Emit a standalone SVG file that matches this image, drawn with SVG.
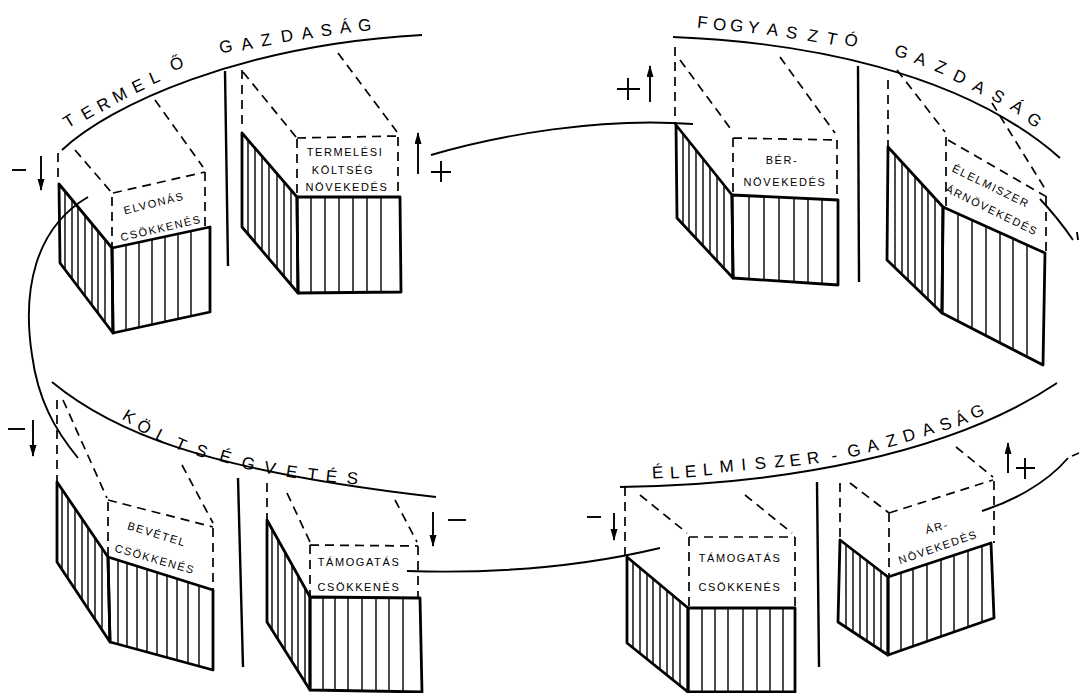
<svg xmlns="http://www.w3.org/2000/svg" width="1083" height="693" viewBox="0 0 1083 693">
<defs>
<style>
.bg{fill:#fff}
.face{fill:none;stroke:#000;stroke-width:2.8;stroke-linejoin:round}
.hatch{fill:none;stroke:#000;stroke-width:1.4}
.dash{fill:none;stroke:#000;stroke-width:1.7;stroke-dasharray:9 6}
.arc{fill:none;stroke:#000;stroke-width:1.9}
.sep{fill:none;stroke:#000;stroke-width:2.4}
.sign{fill:none;stroke:#000;stroke-width:1.9}
.arr{fill:none;stroke:#000;stroke-width:1.9;marker-end:url(#ah)}
.lbl{font-family:"Liberation Sans","DejaVu Sans",sans-serif;font-size:11px;letter-spacing:1.6px;text-anchor:middle;dominant-baseline:central;fill:#000}
.arcl{font-family:"Liberation Sans","DejaVu Sans",sans-serif;font-size:17px;text-anchor:middle;dominant-baseline:central;fill:#000}
</style>
<marker id="ah" markerUnits="userSpaceOnUse" markerWidth="12" markerHeight="8" refX="11" refY="3.5" orient="auto">
<path d="M0,0 L12,3.5 L0,7 Z" fill="#000"/>
</marker>
</defs>
<rect class="bg" x="0" y="0" width="1083" height="693"/>

<g id="arcs">
<path class="arc" d="M62,150 C110,105 240,45 422,35"/>
<path class="arc" d="M673,37 C800,42 960,70 1060,158"/>
<path class="arc" d="M52,382 C110,430 200,470 436,497"/>
<path class="arc" d="M620,487 C780,485 950,455 1057,383"/>
<text class="arcl" x="73 91 107 123 141 157 179 203 227 248 267 288 308 327 346 365" y="123 115 107 98 88 79 66 57 48 45 41 37 34 31 28 26" rotate="-32 -30 -28 -27 -25 -23 -21 -15 -12 -11 -10 -9 -8 -7 -6 -5">TERMELŐ GAZDASÁG</text>
<text class="arcl" x="702 719 736 753 772 791 812 831 850 875 900 919 939 958 977 996 1015 1032" y="22 24 25 27 29 32 35 38 39 44 50 57 65 74 84 93 103 115" rotate="6 6 7 7 8 9 10 11 12 14 16 19 22 25 28 31 34 37">FOGYASZTÓ GAZDASÁG</text>
<text class="arcl" x="127 142 159 179 200 224 247 269 291 312 331 352" y="413 423 433 442 449 455 462 467 471 474 476 478" rotate="32 30 27 24 20 17 14 11 9 7 6 5">KÖLTSÉGVETÉS</text>
<text class="arcl" x="658 675 691 708 727 744 761 780 796 814 835 855 874 893 911 930 948 964 980" y="473 473 472 470 467 465 464 462 461 459 456 452 447 442 437 431 426 421 414" rotate="-3 -3 -4 -4 -5 -5 -6 -6 -7 -8 -9 -11 -13 -15 -17 -19 -21 -23 -25">ÉLELMISZER-GAZDASÁG</text>
</g>

<g id="separators">
<path class="sep" d="M225,71 L228,266"/>
<path class="sep" d="M858,66 L859,282"/>
<path class="sep" d="M238,478 L243,667"/>
<path class="sep" d="M817,482 L819,667"/>
</g>

<g id="connectors">
<path class="arc" d="M431,155 C500,135 600,117 693,124"/>
<path class="arc" d="M407,571 C470,573 560,572 660,548"/>
<path class="arc" d="M88,197 C35,228 22,290 32,355 C38,400 55,430 78,458"/>
<path class="arc" d="M1040,199 Q1058,218 1073,240"/>
<path class="arc" d="M982,511 C1010,502 1045,485 1068,458"/>
<path class="arc" d="M1072,456 L1079,453 M1077,232 L1078,240"/>
</g>

<g id="signs">
<path class="arr" d="M41,156 V190"/>
<path class="sign" d="M12,170 H26"/>
<path class="arr" d="M418,174 V133"/>
<path class="sign" d="M431,172 H451 M441,161 V182"/>
<path class="arr" d="M650,102 V66"/>
<path class="sign" d="M617,89 H640 M628,78 V100"/>
<path class="arr" d="M33,420 V456"/>
<path class="sign" d="M8,429 H25"/>
<path class="arr" d="M433,512 V546"/>
<path class="sign" d="M448,520 H466"/>
<path class="arr" d="M614,513 V540"/>
<path class="sign" d="M587,517 H601"/>
<path class="arr" d="M1008,473 V443"/>
<path class="sign" d="M1016,468 H1035 M1025,458 V479"/>
</g>

<g id="elvonas">
<path class="dash" d="M58,153V183M75,150L112,193M155,100L203,167M113,193L205,172M205,172V227M112,197V248"/>
<polygon class="face" points="59,184 112,248 113,333 60,263"/>
<polygon class="face" points="112,248 210,227 210,312 113,333"/>
<path class="hatch" d="M65,191.2V269.6M72,199.7V278.8M78,207V286.8M85,215.4V296M92,223.9V305.2M98,231.1V313.2M105,239.6V322.4"/>
<path class="hatch" d="M126,245V330.2M139,242.2V327.4M152,239.4V324.6M165,236.7V321.7M178,233.9V318.9M191,231.1V316.1"/>
<text class="lbl" x="154" y="203" transform="rotate(-14 154 203)">ELVONÁS</text>
<text class="lbl" x="161" y="228" transform="rotate(-13 161 228)">CSÖKKENÉS</text>
</g>

<g id="termelesi">
<path class="dash" d="M242,70V130M243,72L296,137M338,53L397,132M297,138L398,136M398,137V196M297,139V197"/>
<polygon class="face" points="242,133 297,197 298,293 242,227"/>
<polygon class="face" points="297,197 400,197 401,292 298,293"/>
<path class="hatch" d="M248,140V234.1M255,148.1V242.3M262,156.3V250.6M269,164.4V258.9M277,173.7V268.3M284,181.9V276.6M291,190V284.9"/>
<path class="hatch" d="M311,197V293M325,197V293M339,197V293M353,197V292.5M367,197V292.5M381,197V292.5"/>
<text class="lbl" x="345" y="152">TERMELÉSI</text>
<text class="lbl" x="343" y="170">KÖLTSÉG</text>
<text class="lbl" x="347" y="187">NÖVEKEDÉS</text>
</g>

<g id="ber">
<path class="dash" d="M675,47V125M680,60L733,132M780,57L835,133M733,138L837,140M837,140V199M733,138V194"/>
<polygon class="face" points="676,125 732,195 733,278 677,218"/>
<polygon class="face" points="732,195 838,200 838,285 733,278"/>
<path class="hatch" d="M683,133.8V224.4M689,141.3V230.9M696,150V238.4M703,158.8V245.9M710,167.5V253.4M717,176.3V260.9M724,185V268.4"/>
<path class="hatch" d="M749,195.8V279.1M764,196.5V280.1M779,197.2V281.1M794,197.9V282.1M808,198.5V283M822,199.2V284"/>
<text class="lbl" x="782" y="160">BÉR-</text>
<text class="lbl" x="785" y="182">NÖVEKEDÉS</text>
</g>

<g id="elelmiszer">
<path class="dash" d="M888,80V146M897,70L945,132M992,103L1047,192M948,140L1047,197M1046,197V253M946,137V207"/>
<polygon class="face" points="888,147 943,207 942,313 887,260"/>
<polygon class="face" points="943,207 1045,253 1043,365 942,313"/>
<path class="hatch" d="M895,154.6V266.7M902,162.3V273.5M908,168.8V279.3M915,176.5V286M922,184.1V292.8M928,190.6V298.6M935,198.3V305.3"/>
<path class="hatch" d="M958,213.8V320.7M972,220.1V327.9M986,226.4V335.1M1000,232.7V342.4M1013,238.6V349.1M1027,244.9V356.3"/>
<text class="lbl" x="991" y="186" transform="rotate(26 991 186)">ÉLELMISZER</text>
<text class="lbl" x="992" y="210" transform="rotate(26 992 210)">ÁRNÖVEKEDÉS</text>
</g>

<g id="bevetel">
<path class="dash" d="M57,400V481M63,400L107,498M182,465L213,523M108,500L213,527M213,528V589M108,502V556"/>
<polygon class="face" points="57,482 108,557 110,642 57,562"/>
<polygon class="face" points="108,557 213,590 213,670 110,642"/>
<path class="hatch" d="M62,489.4V569.5M68,498.2V578.6M75,508.5V589.2M82,518.8V599.8M88,527.6V608.8M95,537.9V619.4M102,548.2V629.9"/>
<path class="hatch" d="M118,560.1V644.2M127,562.9V646.6M137,566.1V649.3M147,569.2V652.1M157,572.4V654.8M167,575.5V657.5M177,578.7V660.2M188,582.1V663.2M199,585.6V666.2"/>
<text class="lbl" x="157" y="534" transform="rotate(17 157 534)">BEVÉTEL</text>
<text class="lbl" x="155" y="559" transform="rotate(16 155 559)">CSÖKKENÉS</text>
</g>

<g id="tamogatas1">
<path class="dash" d="M267,483V519M287,493L310,542M395,500L417,542M310,545L418,546M418,546V597M310,545V596"/>
<polygon class="face" points="267,520 310,597 310,690 267,622"/>
<polygon class="face" points="310,597 420,598 422,692 310,690"/>
<path class="hatch" d="M272,529V629.9M278,539.7V639.4M285,552.2V650.5M292,564.8V661.5M298,575.5V671M305,588V682"/>
<path class="hatch" d="M323,597.5V690.5M335,597.5V690.6M348,597.6V690.8M362,597.7V691M376,597.7V691.2M389,597.8V691.4M403,597.9V691.6"/>
<text class="lbl" x="359" y="562">TÁMOGATÁS</text>
<text class="lbl" x="359" y="587">CSÖKKENÉS</text>
</g>

<g id="tamogatas2">
<path class="dash" d="M625,487V556M640,495L687,533M745,495L792,533M689,537L795,537M795,537V607M689,537V607"/>
<polygon class="face" points="627,557 688,608 688,692 627,643"/>
<polygon class="face" points="688,608 795,608 795,692 688,692"/>
<path class="hatch" d="M633,562V647.8M640,567.9V653.4M647,573.7V659.1M653,578.7V663.9M660,584.6V669.5M667,590.4V675.1M673,595.5V679.9M680,601.3V685.6"/>
<path class="hatch" d="M702,608V692M715,608V692M728,608V692M743,608V692M757,608V692M770,608V692M783,608V692"/>
<text class="lbl" x="740" y="558">TÁMOGATÁS</text>
<text class="lbl" x="740" y="587">CSÖKKENÉS</text>
</g>

<g id="ar">
<path class="dash" d="M840,483V539M850,483L889,513M956,447L993,477M889,513L993,480M994,481V543M889,513V576"/>
<polygon class="face" points="840,540 888,577 888,655 838,622"/>
<polygon class="face" points="888,577 991,543 994,618 888,655"/>
<path class="hatch" d="M846,544.6V627.3M853,550V631.9M860,555.4V636.5M867,560.8V641.1M874,566.2V645.8M881,571.6V650.4"/>
<path class="hatch" d="M901,572.7V650.5M913,568.7V646.3M927,564.1V641.4M941,559.5V636.6M954,555.2V632M968,550.5V627.1M982,545.9V622.2"/>
<text class="lbl" x="937" y="527" transform="rotate(-15 937 527)">ÁR-</text>
<text class="lbl" x="938" y="547" transform="rotate(-19 938 547)">NÖVEKEDÉS</text>
</g>
</svg>
